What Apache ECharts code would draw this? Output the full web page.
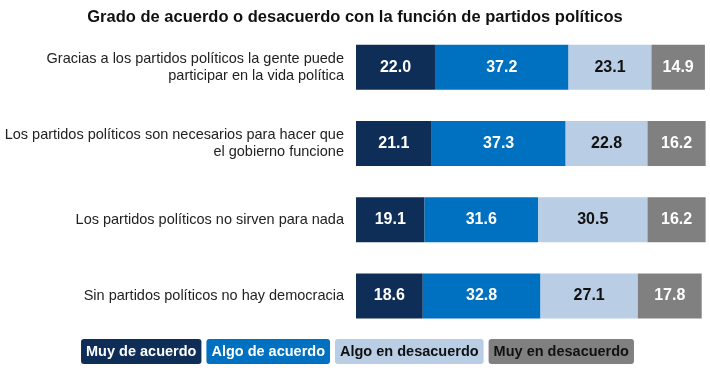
<!DOCTYPE html>
<html>
<head>
<meta charset="utf-8">
<script src="https://cdn.jsdelivr.net/npm/echarts@6/dist/echarts.min.js"></script>
<style>
html,body{margin:0;padding:0;background:#fff;}
#chart{width:710px;height:375px;}
</style>
</head>
<body>
<div id="chart"></div>
<script>
var categorias = [
	'Gracias a los partidos políticos la gente puede\nparticipar en la vida política',
	'Los partidos políticos son necesarios para hacer que\nel gobierno funcione',
	'Los partidos políticos no sirven para nada',
	'Sin partidos políticos no hay democracia'
];
var muyDeAcuerdo = [22.0, 21.1, 19.1, 18.6];
var algoDeAcuerdo = [37.2, 37.3, 31.6, 32.8];
var algoEnDesacuerdo = [23.1, 22.8, 30.5, 27.1];
var muyEnDesacuerdo = [14.9, 16.2, 16.2, 17.8];

var colores = ['#0e2d57', '#0070c0', '#b9cde5', '#808080'];
var textos = ['#ffffff', '#ffffff', '#111111', '#ffffff'];
var nombres = ['Muy de acuerdo', 'Algo de acuerdo', 'Algo en desacuerdo', 'Muy en desacuerdo'];
var valores = [muyDeAcuerdo, algoDeAcuerdo, algoEnDesacuerdo, muyEnDesacuerdo];

var series = [];
var legendData = [];
for (var i = 0; i < nombres.length; i++) {
	series.push({
		name: nombres[i],
		type: 'bar',
		stack: 'total',
		barWidth: 45,
		data: valores[i],
		itemStyle: { color: colores[i] },
		label: {
			show: true,
			position: 'inside',
			color: textos[i],
			fontSize: 16,
			fontWeight: 'bold',
			fontFamily: 'Liberation Sans',
			formatter: function (p) { return p.value.toFixed(1); }
		}
	});
	legendData.push({
		name: nombres[i],
		textStyle: {
			color: i < 2 ? '#ffffff' : '#111111',
			backgroundColor: colores[i],
			padding: [5, 5, 5, 5],
			borderRadius: 3
		}
	});
}

var option = {
	animation: false,
	title: {
		text: 'Grado de acuerdo o desacuerdo con la función de partidos políticos',
		left: 'center',
		top: 4,
		textStyle: { fontSize: 16.5, fontWeight: 'bold', color: '#111', fontFamily: 'Liberation Sans' }
	},
	legend: {
		bottom: 6,
		left: 'center',
		icon: 'none',
		itemWidth: 0,
		itemHeight: 0,
		itemGap: 0,
		selectedMode: false,
		data: legendData,
		textStyle: { fontSize: 14.5, fontWeight: 'bold', fontFamily: 'Liberation Sans' }
	},
	grid: { left: 356, right: 4, top: 29, bottom: 41, containLabel: false },
	xAxis: {
		type: 'value',
		min: 0,
		max: 97.5,
		show: false
	},
	yAxis: {
		type: 'category',
		inverse: true,
		data: categorias,
		axisLine: { show: false },
		axisTick: { show: false },
		axisLabel: {
			color: '#222',
			fontSize: 14.5,
			fontFamily: 'Liberation Sans',
			lineHeight: 17,
			align: 'right',
			margin: 12
		}
	},
	series: series
};

var myChart = echarts.init(document.getElementById('chart'));
myChart.setOption(option);
</script>
</body>
</html>
